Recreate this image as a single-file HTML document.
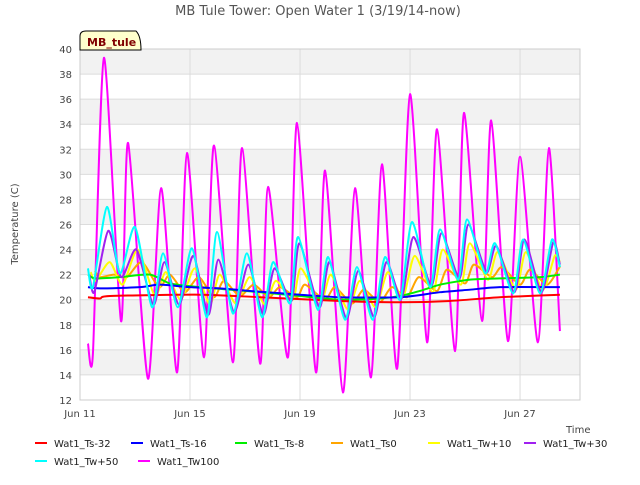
<!DOCTYPE html>
<html><head><meta charset="utf-8"><style>
body{margin:0;background:#fff;font-family:"Liberation Sans",sans-serif;}
svg text{font-family:"DejaVu Sans","Liberation Sans",sans-serif;}
</style></head><body>
<svg id="c" width="640" height="480" xmlns="http://www.w3.org/2000/svg">
<rect width="640" height="480" fill="#fff"/>
<text x="318" y="15" text-anchor="middle" font-size="13" fill="#555">MB Tule Tower: Open Water 1 (3/19/14-now)</text>
<text transform="translate(18,224) rotate(-90)" text-anchor="middle" font-size="10" fill="#444">Temperature (C)</text>
<text x="566" y="433" font-size="10" fill="#444">Time</text>
<g id="grid"></g><g id="series"></g><g id="legend"></g>
<g>
<path d="M80,50 L80,36 Q80,31 86,31 L136,31 Q141,36 141,50 Z" fill="#ffffcc" stroke="#000" stroke-width="1"/>
<text x="87" y="46" font-size="11" font-weight="bold" fill="#800000">MB_tule</text></g>
</svg>
<script>
const xTickLabels=["Jun 11","Jun 15","Jun 19","Jun 23","Jun 27"];
const xTickDays=[0,4,8,12,16];
const yTicks=[12,14,16,18,20,22,24,26,28,30,32,34,36,38,40];
const seriesNames=["Wat1_Ts-32","Wat1_Ts-16","Wat1_Ts-8","Wat1_Ts0","Wat1_Tw+10","Wat1_Tw+30","Wat1_Tw+50","Wat1_Tw100"];
const seriesColors=["#ff0000","#0000ff","#00ee00","#ffa500","#ffff00","#a020f0","#00ffff","#ff00ff"];
const cycT=[0.29,0.47,0.98,1.45,2.0,2.62,3.02,3.56,4.07,4.62,4.98,5.56,6.07,6.62,7.02,7.64,7.93,8.65,9.02,9.64,10.07,10.65,11.09,11.64,12.07,12.73,13.09,13.75,14.07,14.73,15.09,15.75,16.11,16.73,17.16,17.45];
const tw50=[22.5,21.0,27.4,22.1,25.8,19.4,23.7,19.4,24.1,18.6,25.4,18.9,23.7,18.6,23.0,19.7,25.0,19.2,23.4,18.4,22.6,18.4,23.4,20.0,26.2,21.0,25.6,21.6,26.4,22.1,24.5,20.5,24.8,20.5,24.8,22.6];
const tw30=[22.0,20.6,25.5,21.8,24.0,19.6,23.0,19.6,23.5,18.8,23.2,19.0,22.8,18.8,22.5,19.9,24.5,19.4,23.0,18.5,22.3,18.6,23.0,20.1,25.0,21.1,25.3,21.7,26.0,22.2,24.3,20.6,24.8,20.6,24.6,22.8];
const tw10=[22.2,21.5,23.0,21.2,24.0,20.3,22.2,20.0,22.5,19.6,22.0,19.7,21.8,19.6,21.5,20.0,22.5,19.8,22.0,19.2,21.5,19.4,22.2,20.2,23.5,20.6,24.0,21.2,24.5,21.6,23.8,20.8,23.8,20.8,23.5,23.0];
const ts0=[22.3,21.8,22.0,21.8,23.0,21.0,22.0,20.6,21.8,20.2,21.5,20.3,21.2,20.2,21.0,20.2,21.2,20.0,21.0,19.7,20.8,19.8,21.0,20.2,21.8,20.7,22.4,21.3,22.8,21.8,22.6,21.2,22.4,21.2,22.5,22.7];
const tw100T=[0.29,0.47,0.87,1.49,1.75,2.47,2.95,3.53,3.89,4.51,4.87,5.56,5.89,6.55,6.84,7.56,7.89,8.58,8.91,9.56,10.0,10.58,10.98,11.53,12.0,12.62,12.98,13.64,13.96,14.62,14.95,15.56,16.0,16.65,17.05,17.45];
const tw100=[16.5,15.7,39.3,18.3,32.5,13.7,28.9,14.2,31.7,15.4,32.3,15.0,32.1,14.9,29.0,15.4,34.1,14.2,30.3,12.6,28.9,13.8,30.8,14.5,36.4,16.6,33.6,15.9,34.9,18.3,34.3,16.7,31.4,16.6,32.1,17.5];
const ts8T=[0.29,0.55,1.45,2.55,3.27,4.36,5.45,6.55,8.0,9.45,10.9,11.64,12.36,13.09,14.18,15.27,16.73,17.45];
const ts8=[22.0,21.7,21.8,22.0,21.3,21.0,20.8,20.6,20.3,20.0,20.1,20.3,20.7,21.2,21.6,21.7,21.8,22.0];
const ts16T=[0.29,0.73,2.18,2.91,4.0,5.09,6.18,8.0,9.45,11.64,13.09,14.18,15.27,17.45];
const ts16=[21.0,20.9,21.0,21.2,21.0,20.9,20.7,20.4,20.2,20.2,20.6,20.8,21.0,21.0];
const ts32T=[0.29,0.73,1.09,4.36,6.55,9.45,11.64,13.45,15.27,17.45];
const ts32=[20.2,20.1,20.3,20.4,20.2,19.9,19.8,19.9,20.2,20.4];
const L=80,R=580,T=49,B=400;
const X=d=>L+d*(R-L)/18.18;
const Y=v=>B-(v-12)*(B-T)/28;
const NS="http://www.w3.org/2000/svg";
function mk(tag,attrs,parent){const e=document.createElementNS(NS,tag);for(const k in attrs)e.setAttribute(k,attrs[k]);parent.appendChild(e);return e;}
function smooth(p){
  let d='M'+p[0][0]+','+p[0][1];
  for(let i=0;i<p.length-1;i++){
    const p0=p[Math.max(i-1,0)],p1=p[i],p2=p[i+1],p3=p[Math.min(i+2,p.length-1)];
    const k=0.12;
    const c1x=p1[0]+(p2[0]-p0[0])*k,c1y=p1[1]+(p2[1]-p0[1])*k;
    const c2x=p2[0]-(p3[0]-p1[0])*k,c2y=p2[1]-(p3[1]-p1[1])*k;
    d+=' C'+c1x+','+c1y+' '+c2x+','+c2y+' '+p2[0]+','+p2[1];
  }
  return d;
}
const grid=document.getElementById('grid');
for(let i=0;i<yTicks.length-1;i++){
  const r=mk('rect',{x:L,y:Y(yTicks[i+1]),width:R-L,height:Y(yTicks[i])-Y(yTicks[i+1]),fill:(i%2===1)?'#f2f2f2':'#ffffff'},grid);
  
  
}
yTicks.forEach(v=>{
  mk('line',{x1:L,x2:R,y1:Y(v),y2:Y(v),stroke:'#dcdcdc','stroke-width':1},grid);
  const t=mk('text',{x:L-8,y:Y(v)+4,'text-anchor':'end','font-size':10,fill:'#444'},grid);t.textContent=v;
  
  
});
xTickDays.forEach((d,i)=>{
  mk('line',{x1:X(d),x2:X(d),y1:T,y2:B,stroke:'#dcdcdc','stroke-width':1},grid);
  const t=mk('text',{x:X(d),y:B+17,'text-anchor':'middle','font-size':10,fill:'#444'},grid);t.textContent=xTickLabels[i];
  
  
});
mk('rect',{x:L,y:T,width:R-L,height:B-T,fill:'none',stroke:'#ccc'},grid);
const sg=document.getElementById('series');
const data=[[ts32T,ts32,0],[ts16T,ts16,0],[ts8T,ts8,0],[cycT,ts0,0.25],[cycT,tw10,0.1],[cycT,tw30,0.05],[cycT,tw50,0],[tw100T,tw100,0]];
const order=[7,3,4,2,1,0,5,6];
order.forEach(i=>{
  const [ts,vs,lag]=data[i];
  const pts=ts.map((t,j)=>[X(Math.min(t+lag,17.45)),Y(vs[j])]);
  const p=mk('path',{d:smooth(pts),fill:'none',stroke:seriesColors[i],'stroke-width':2,'stroke-linejoin':'round'},sg);
  
  
});
const lg=document.getElementById('legend');
const lx=[35,131,235,331,428,524,35,138],ly=[443,443,443,443,443,443,461,461];
seriesNames.forEach((n,i)=>{
  const g=mk('g',{},lg);
  
  
  mk('line',{x1:lx[i],x2:lx[i]+12,y1:ly[i],y2:ly[i],stroke:seriesColors[i],'stroke-width':2},g);
  const t=mk('text',{x:lx[i]+19,y:ly[i]+4,'font-size':10,fill:'#222'},g);t.textContent=n;
});
</script>
</body></html>
